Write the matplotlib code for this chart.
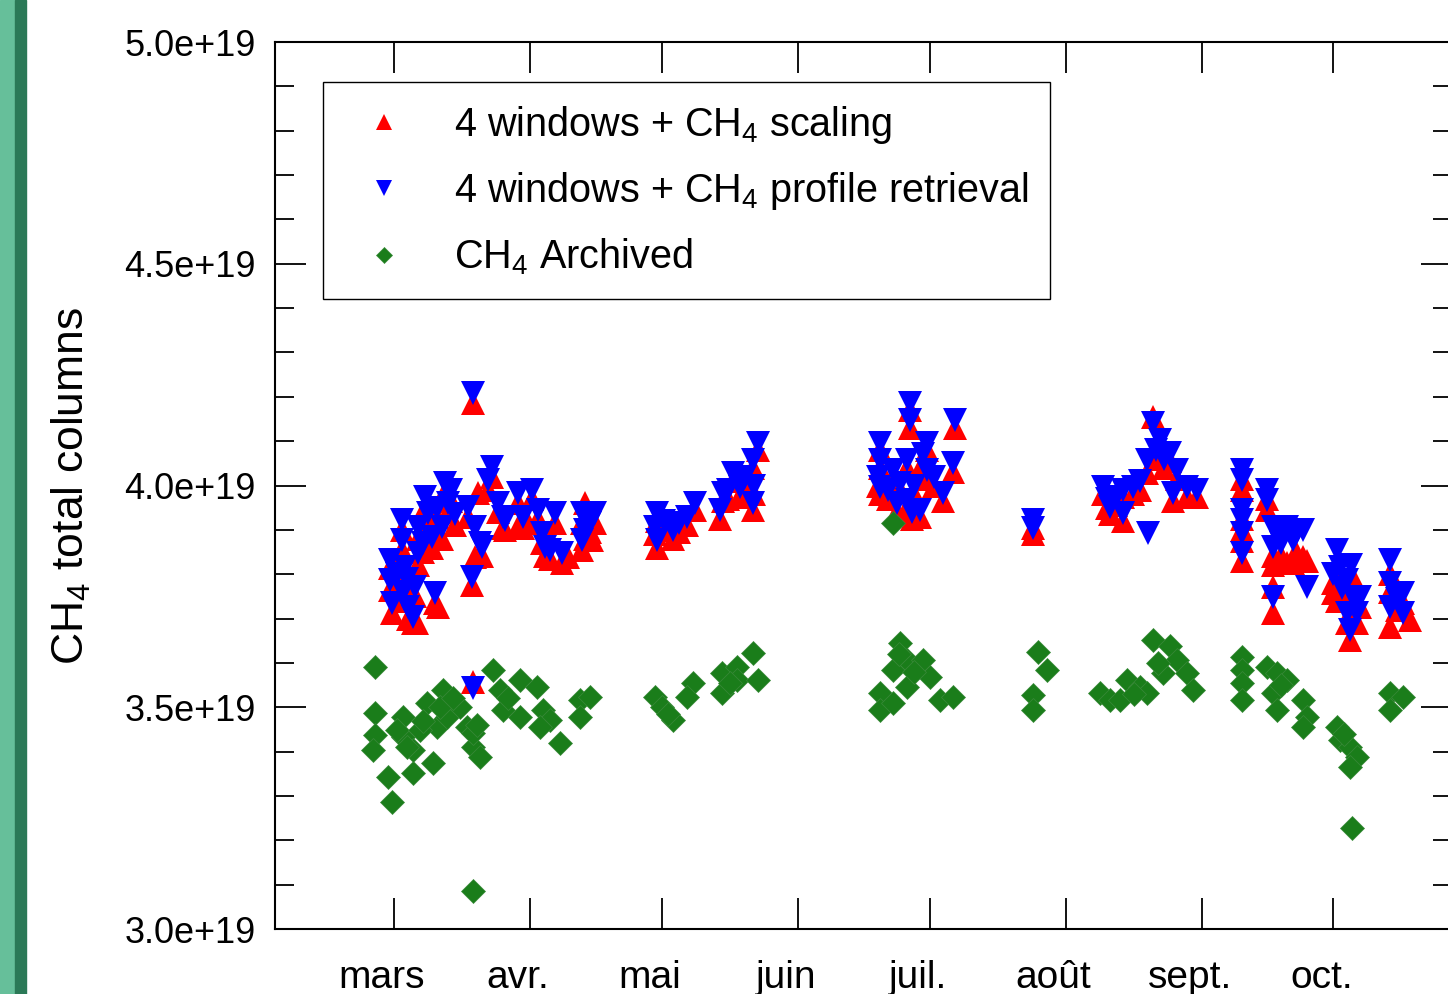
import numpy as np
import pandas as pd
import matplotlib
matplotlib.use("Agg")
import matplotlib.pyplot as plt
import matplotlib.dates as mdates
from matplotlib.patches import Rectangle
from matplotlib.ticker import FuncFormatter, MultipleLocator
from matplotlib.transforms import ScaledTranslation

plt.rcParams['font.family'] = ['Liberation Sans', 'DejaVu Sans']
plt.rcParams['mathtext.default'] = 'regular'

# jours depuis le 1er mars, colonnes en 1e19 molec/cm2
scal_days = [-0.9, -0.9, -0.5, 1.8, 1.8, 2.5, 3.2, 4.3, 5.2, 4.8, 5.5, 5.5, 7.1, 7.7, 8.7, 9.3, 10.0,
             11.6, 12.3, 10.9, 16.9, 18.5, 19.6, 17.8, 18.0, 18.0, 19.1, 22.3, 21.4, 23.7, 25.3, 28.2,
             30.5, 31.4, 28.2, 32.8, 33.7, 34.4, 36.7, 38.3, 39.6, 42.8, 43.5, 42.8, 45.1, 45.8,
             3.0, 6.5, 9.9, 13.0, 14.0, 20.0, 24.8, 29.4, 35.5, 43.5, 44.6, 0.7, 2.1,
             59.9, 59.9, 59.5, 63.6, 66.7, 68.6, 74.3, 74.9, 77.2, 78.8, 81.8, 81.8, 82.9, 61.5, 65.0,
             76.0, 80.0, 82.0,
             110.7, 110.7, 110.3, 110.7, 117.5, 117.5, 113.7, 116.9, 116.9, 119.8, 121.4, 121.4, 125.1,
             127.3, 127.8, 115.3, 112.5, 118.5, 120.5, 123.0, 114.5, 118.0,
             145.6, 145.6,
             161.5, 163.1, 166.1, 168.3, 166.1, 172.9, 171.5, 174.5, 176.8, 178.4, 177.4, 180.6, 182.9,
             164.5, 173.5, 175.5, 170.0, 162.5,
             193.2, 193.2, 193.2, 193.2, 193.2, 193.2, 198.9, 198.9, 200.2, 200.2, 200.2, 200.2, 203.4,
             204.8, 207.1, 208.0, 201.5, 205.5, 202.0,
             213.9, 214.8, 215.5, 217.1, 218.5, 217.1, 217.8, 220.0, 219.4, 213.9, 216.0, 218.0,
             226.9, 226.9, 229.8, 226.9, 231.4, 228.5]
scal_vals = [3.815, 3.765, 3.712, 3.900, 3.855, 3.79, 3.700, 3.690, 3.69, 3.75, 3.82, 3.88, 3.95, 3.915,
             3.86, 3.735, 3.726, 3.985, 3.94, 3.88, 3.93, 3.839, 3.845, 3.775, 4.186, 3.557, 3.983,
             4.02, 3.99, 3.94, 3.90, 3.96, 3.915, 3.97, 3.907, 3.925, 3.87, 3.84, 3.915, 3.825, 3.839,
             3.915, 3.961, 3.855, 3.877, 3.915,
             3.77, 3.85, 3.93, 3.965, 3.91, 3.84, 3.905, 3.905, 3.835, 3.88, 3.895, 3.78, 3.74,
             3.86, 3.92, 3.89, 3.88, 3.91, 3.945, 3.925, 3.965, 4.01, 3.975, 4.04, 3.945, 4.08, 3.90,
             3.895, 3.97, 4.0, 3.98,
             4.08, 4.04, 4.0, 3.98, 4.17, 4.13, 4.015, 4.04, 3.95, 3.93, 4.08, 4.015, 3.965, 4.03,
             4.13, 3.99, 3.97, 3.98, 4.05, 4.0, 3.94, 3.925,
             3.905, 3.89,
             3.98, 3.935, 3.975, 3.98, 3.92, 4.155, 4.028, 4.085, 4.055, 4.015, 3.965, 3.975, 3.975,
             3.955, 4.06, 4.04, 3.99, 3.95,
             4.015, 3.99, 3.925, 3.90, 3.875, 3.83, 3.97, 3.945, 3.84, 3.82, 3.771, 3.713, 3.825,
             3.825, 3.839, 3.83, 3.83, 3.85, 3.84,
             3.758, 3.74, 3.79, 3.765, 3.725, 3.69, 3.652, 3.725, 3.69, 3.78, 3.75, 3.80,
             3.80, 3.76, 3.735, 3.681, 3.697, 3.72]

prof_days = [-0.9, -0.9, -0.5, 1.8, 1.8, 2.5, 3.2, 4.3, 4.8, 5.5, 5.5, 7.1, 7.7, 8.7, 9.3, 11.6, 12.3,
             10.9, 16.9, 18.5, 19.6, 17.8, 18.0, 18.0,
             22.3, 21.4, 23.7, 25.3, 28.2, 31.4, 32.8, 33.7, 34.4, 36.7, 38.3, 42.8, 42.8, 45.8,
             3.0, 6.5, 9.9, 13.0, 14.0, 20.0, 24.8, 29.4, 35.5, 43.5, 44.6, 0.7, 2.1,
             59.9, 59.9, 59.5, 63.6, 66.7, 68.6, 74.3, 74.9, 77.2, 78.8, 81.8, 81.8, 82.9, 61.5, 65.0,
             76.0, 80.0, 82.0,
             110.7, 110.7, 110.3, 110.7, 117.5, 117.5, 113.7, 116.9, 116.9, 119.8, 121.4, 121.4, 125.1,
             127.3, 127.8, 115.3, 112.5, 118.5, 120.5, 123.0, 114.5, 118.0,
             145.6, 145.6,
             161.5, 163.1, 166.1, 168.3, 166.1, 171.8, 172.9, 171.5, 174.5, 176.8, 178.4, 177.4, 180.6,
             182.9, 164.5, 173.5, 175.5, 170.0, 162.5,
             193.2, 193.2, 193.2, 193.2, 193.2, 193.2, 198.9, 198.9, 200.2, 200.2, 200.2, 203.4, 204.8,
             207.1, 208.0, 201.5, 205.5, 202.0,
             214.8, 215.5, 217.1, 218.5, 217.1, 217.8, 220.0, 219.4, 213.9, 216.0, 218.0,
             226.9, 226.9, 229.8, 226.9, 229.8, 228.5]
prof_vals = [3.832, 3.787, 3.735, 3.922, 3.877, 3.816, 3.726, 3.703, 3.771, 3.848, 3.906, 3.974, 3.938,
             3.884, 3.758, 4.006, 3.961, 3.906, 3.952, 3.906, 3.870, 3.794, 4.209, 3.543,
             4.042, 4.012, 3.961, 3.922, 3.983, 3.990, 3.945, 3.893, 3.861, 3.938, 3.848, 3.938, 3.877,
             3.938,
             3.790, 3.870, 3.950, 3.990, 3.935, 3.861, 3.929, 3.929, 3.855, 3.900, 3.915, 3.800, 3.760,
             3.877, 3.938, 3.907, 3.900, 3.929, 3.960, 3.945, 3.983, 4.028, 3.996, 4.057, 3.960, 4.096,
             3.92, 3.915, 3.99, 4.02, 4.0,
             4.096, 4.057, 4.019, 3.996, 4.186, 4.148, 4.035, 4.057, 3.967, 3.945, 4.096, 4.035, 3.983,
             4.050, 4.148, 4.006, 3.99, 4.00, 4.07, 4.02, 3.96, 3.94,
             3.922, 3.905,
             3.996, 3.951, 3.990, 3.996, 3.938, 3.893, 4.141, 4.057, 4.103, 4.073, 4.035, 3.983, 3.996,
             3.990, 3.975, 4.08, 4.06, 4.01, 3.97,
             4.035, 4.012, 3.945, 3.922, 3.893, 3.848, 3.990, 3.967, 3.907, 3.861, 3.749, 3.907, 3.877,
             3.900, 3.771, 3.89, 3.89, 3.87,
             3.855, 3.816, 3.787, 3.749, 3.713, 3.674, 3.749, 3.713, 3.80, 3.77, 3.82,
             3.832, 3.780, 3.758, 3.726, 3.713, 3.745]

arch_days = [-4.3, -4.3, -4.3, -4.8, -1.4, -0.5, 2.1, 2.1, 4.3, 4.3, 7.5, 8.9, 9.8, 11.2, 12.1, 15.0,
             16.6, 18.0, 19.6, 18.0, 18.0, 22.6, 24.1, 24.8, 28.7, 28.7, 32.6, 33.9, 35.5, 37.8, 33.3,
             42.4, 44.6, 42.4, 0.7, 3.0, 5.9, 6.5, 10.5, 13.5, 19.0, 26.0,
             59.5, 63.6, 68.1, 66.7, 74.7, 74.7, 78.1, 78.1, 81.8, 82.9, 61.0, 62.5, 76.5,
             113.7, 115.3, 110.7, 110.7, 113.7, 116.9, 116.9, 113.7, 120.5, 122.1, 124.4, 127.3, 118.5,
             115.0,
             146.7, 148.7, 145.6, 145.6,
             160.8, 163.1, 165.4, 167.0, 169.9, 171.5, 172.9, 175.2, 176.8, 178.4, 180.6, 182.0, 168.5,
             174.0,
             193.2, 193.2, 193.2, 193.2, 198.9, 201.1, 200.2, 201.1, 203.4, 207.1, 208.0, 207.1, 202.0,
             214.8, 215.5, 217.8, 219.4, 217.8, 218.2, 216.5,
             226.9, 229.8, 226.9]
arch_vals = [3.591, 3.487, 3.437, 3.404, 3.343, 3.286, 3.479, 3.433, 3.352, 3.404, 3.510, 3.374, 3.456,
             3.539, 3.479, 3.501, 3.456, 3.410, 3.388, 3.442, 3.086, 3.584, 3.539, 3.494, 3.561, 3.479,
             3.546, 3.494, 3.472, 3.419, 3.456, 3.516, 3.523, 3.479, 3.449, 3.410, 3.449, 3.47, 3.50,
             3.52, 3.46, 3.52,
             3.523, 3.472, 3.555, 3.523, 3.577, 3.532, 3.591, 3.561, 3.622, 3.561, 3.50, 3.485, 3.555,
             3.915, 3.645, 3.532, 3.494, 3.584, 3.606, 3.546, 3.510, 3.606, 3.568, 3.516, 3.523, 3.58,
             3.62,
             3.625, 3.584, 3.527, 3.494,
             3.532, 3.516, 3.516, 3.561, 3.546, 3.532, 3.652, 3.577, 3.637, 3.606, 3.577, 3.539, 3.53,
             3.60,
             3.613, 3.584, 3.555, 3.516, 3.591, 3.577, 3.532, 3.494, 3.561, 3.516, 3.479, 3.456, 3.55,
             3.456, 3.426, 3.410, 3.388, 3.365, 3.228, 3.44,
             3.532, 3.523, 3.494]

month_labels = ['mars', 'avr.', 'mai', 'juin', 'juil.', 'août', 'sept.', 'oct.']

start = pd.Timestamp('2010-03-01')


def to_dates(days):
    return start + pd.to_timedelta(np.array(days), unit='D')


W, H = 1448, 994
fig = plt.figure(figsize=(W / 100, H / 100), dpi=100)

# bande verte a gauche
fig.patches.append(Rectangle((0, 0), 15 / W, 1, transform=fig.transFigure, color='#66bf9a', zorder=0))
fig.patches.append(Rectangle((15 / W, 0), 11 / W, 1, transform=fig.transFigure, color='#2b7957', zorder=0))

ax = fig.add_axes([275 / W, (H - 929) / H, (1452 - 275) / W, (929 - 42) / H])

ax.plot(to_dates(scal_days), np.array(scal_vals) * 1e19, '^', color='red', ms=17, mew=0,
        label='4 windows + CH$_4$ scaling')
ax.plot(to_dates(arch_days), np.array(arch_vals) * 1e19, 'D', color='#1a7d1a', ms=12, mew=0.5,
        mec='#3a8a3a', label='CH$_4$ Archived', zorder=2)
ax.plot(to_dates(prof_days), np.array(prof_vals) * 1e19, 'v', color='blue', ms=17, mew=0,
        label='4 windows + CH$_4$ profile retrieval', zorder=3)

ax.set_ylim(3.0e19, 5.0e19)
ax.set_xlim(start - pd.Timedelta(days=27.1), start + pd.Timedelta(days=241.0))

ax.yaxis.set_major_locator(MultipleLocator(0.5e19))
ax.yaxis.set_minor_locator(MultipleLocator(0.1e19))
ax.yaxis.set_major_formatter(FuncFormatter(lambda v, p: '{:.1e}'.format(v)))
ax.xaxis.set_major_locator(mdates.MonthLocator(bymonth=range(3, 11)))
ax.set_xticks(ax.get_xticks())
ax.set_xticklabels(month_labels, fontsize=28)

ax.tick_params(axis='both', which='major', direction='in', length=22, width=1.3,
               top=True, right=True)
ax.tick_params(axis='y', which='major', labelsize=26, pad=14)
ax.tick_params(axis='y', which='minor', direction='in', length=14, width=1.3, right=True)
ax.tick_params(axis='x', which='major', pad=22)
for lab in ax.get_xticklabels():
    lab.set_transform(lab.get_transform() + ScaledTranslation(-12 / 100, 0, fig.dpi_scale_trans))
for sp in ax.spines.values():
    sp.set_linewidth(1.5)

ax.set_ylabel('CH$_4$ total columns', fontsize=32, labelpad=22)

handles, labels = ax.get_legend_handles_labels()
order = [0, 2, 1]
leg = ax.legend([handles[i] for i in order], [labels[i] for i in order],
                loc='upper left', bbox_to_anchor=(323 / W, 1 - 82 / H),
                bbox_transform=fig.transFigure, fontsize=28.5, markerscale=0.7,
                fancybox=False, edgecolor='black', framealpha=1, borderpad=0.55,
                labelspacing=0.62, handletextpad=0.75, handlelength=2.0, borderaxespad=0)
leg.get_frame().set_linewidth(1.0)

fig.savefig('out.png', dpi=100)
